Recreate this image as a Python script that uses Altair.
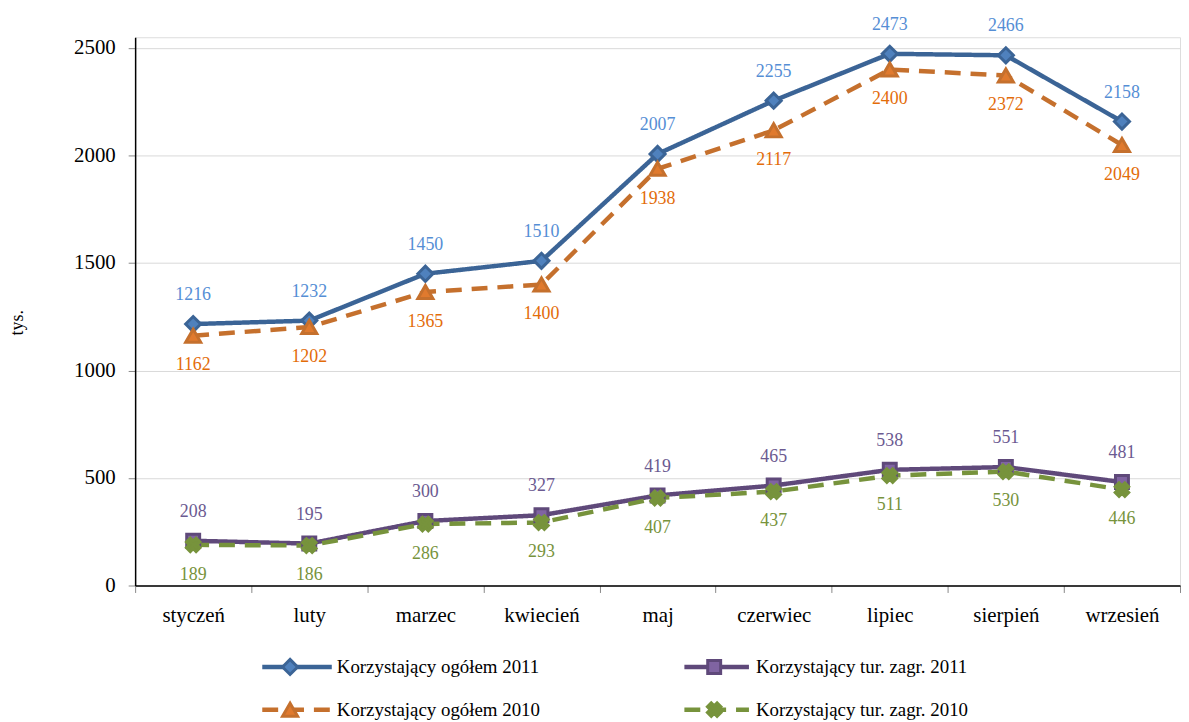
import altair as alt
import pandas as pd

months = ["styczeń", "luty", "marzec", "kwiecień", "maj", "czerwiec", "lipiec", "sierpień", "wrzesień"]
ogolem_2011 = [1216, 1232, 1450, 1510, 2007, 2255, 2473, 2466, 2158]
ogolem_2010 = [1162, 1202, 1365, 1400, 1938, 2117, 2400, 2372, 2049]
tur_2011 = [208, 195, 300, 327, 419, 465, 538, 551, 481]
tur_2010 = [189, 186, 286, 293, 407, 437, 511, 530, 446]

series_names = ["Korzystający ogółem 2011", "Korzystający tur. zagr. 2011",
                "Korzystający ogółem 2010", "Korzystający tur. zagr. 2010"]

FONT = "Liberation Serif"
W, H = 1052, 552
YMAX = 2550
DASH = [16, 10]
SOLID = [1, 0]

styles = {
    "Korzystający ogółem 2011": dict(line="#3B6496", fill="#4F81BD", lab="#558ED5", shape="diamond",
                                     dash=SOLID, dy=-29, size=230, angle=0),
    "Korzystający tur. zagr. 2011": dict(line="#5F497A", fill="#8064A2", lab="#6B5A91", shape="square",
                                         dash=SOLID, dy=-29, size=170, angle=0),
    "Korzystający ogółem 2010": dict(line="#C5702D", fill="#E07A2E", lab="#E36C09", shape="triangle-up",
                                     dash=DASH, dy=30, size=230, angle=0),
    "Korzystający tur. zagr. 2010": dict(line="#77933C", fill="#77933C", lab="#77933C", shape="cross",
                                         dash=DASH, dy=30, size=190, angle=45),
}
values = {
    "Korzystający ogółem 2011": ogolem_2011,
    "Korzystający tur. zagr. 2011": tur_2011,
    "Korzystający ogółem 2010": ogolem_2010,
    "Korzystający tur. zagr. 2010": tur_2010,
}

xenc = alt.X("month:N", sort=months,
             scale=alt.Scale(type="band", paddingInner=0, paddingOuter=0),
             axis=alt.Axis(title=None, labelAngle=0, labelFont=FONT, labelFontSize=21,
                           labelColor="black", labelPadding=12, tickBand="extent",
                           tickColor="#888888", tickSize=7, domainColor="black",
                           domainWidth=1.5, grid=False))
yenc = alt.Y("value:Q", scale=alt.Scale(domain=[0, YMAX], nice=False),
             axis=alt.Axis(title="tys.", values=[0, 500, 1000, 1500, 2000, 2500], format="d",
                           labelFont=FONT, labelFontSize=21, labelColor="black", labelPadding=13,
                           tickColor="#888888", tickSize=7, domainColor="black", domainWidth=1.5,
                           gridColor="#D9D9D9", gridWidth=1,
                           titleFont=FONT, titleFontSize=18, titleFontWeight="normal",
                           titleColor="black", titlePadding=47, titleY=287))

layers = []
draw_order = ["Korzystający ogółem 2011", "Korzystający ogółem 2010",
              "Korzystający tur. zagr. 2011", "Korzystający tur. zagr. 2010"]
for name in draw_order:
    st = styles[name]
    df = pd.DataFrame({"month": months, "value": values[name], "series": name})
    line = alt.Chart(df).mark_line(color=st["line"], strokeWidth=4.5, strokeDash=st["dash"]).encode(x=xenc, y=yenc)
    layers.append(line)
for name in draw_order:
    st = styles[name]
    df = pd.DataFrame({"month": months, "value": values[name], "series": name})
    base = alt.Chart(df)
    pts = base.mark_point(shape=st["shape"], size=st["size"], filled=True, fill=st["fill"],
                          stroke=st["line"], strokeWidth=3, opacity=1, angle=st["angle"]).encode(x=xenc, y=yenc)
    txt = base.mark_text(dy=st["dy"], font=FONT, fontSize=18, color=st["lab"]).encode(
        x=xenc, y=yenc, text=alt.Text("value:Q"))
    layers += [pts, txt]

# legend (two columns, two rows) below the plot
leg_rows = [634, 677]
leg_cols = [dict(x0=128, x1=198, xm=156, xt=203), dict(x0=553, x1=618, xm=583, xt=625)]
leg_pos = {
    "Korzystający ogółem 2011": (0, 0),
    "Korzystający tur. zagr. 2011": (1, 0),
    "Korzystający ogółem 2010": (0, 1),
    "Korzystający tur. zagr. 2010": (1, 1),
}
for name in series_names:
    st = styles[name]
    c, r = leg_pos[name]
    col = leg_cols[c]
    y = leg_rows[r]
    lb = alt.Chart(pd.DataFrame({"label": [name]}))
    layers.append(lb.mark_rule(color=st["line"], strokeWidth=4.5, strokeDash=st["dash"]).encode(
        x=alt.value(col["x0"]), x2=alt.value(col["x1"]), y=alt.value(y)))
    layers.append(lb.mark_point(shape=st["shape"], size=st["size"], filled=True, fill=st["fill"],
                                stroke=st["line"], strokeWidth=3, opacity=1, angle=st["angle"]).encode(
        x=alt.value(col["xm"]), y=alt.value(y)))
    layers.append(lb.mark_text(align="left", baseline="middle", font=FONT, fontSize=19, color="black").encode(
        x=alt.value(col["xt"]), y=alt.value(y), text="label:N"))

chart = alt.layer(*layers).properties(
    width=W, height=H,
    padding={"left": 1, "top": 5, "right": 0, "bottom": 0},
).configure_view(stroke=None).configure(background="white")

chart.save("out.html", embed_options={"renderer": "svg", "actions": False})
